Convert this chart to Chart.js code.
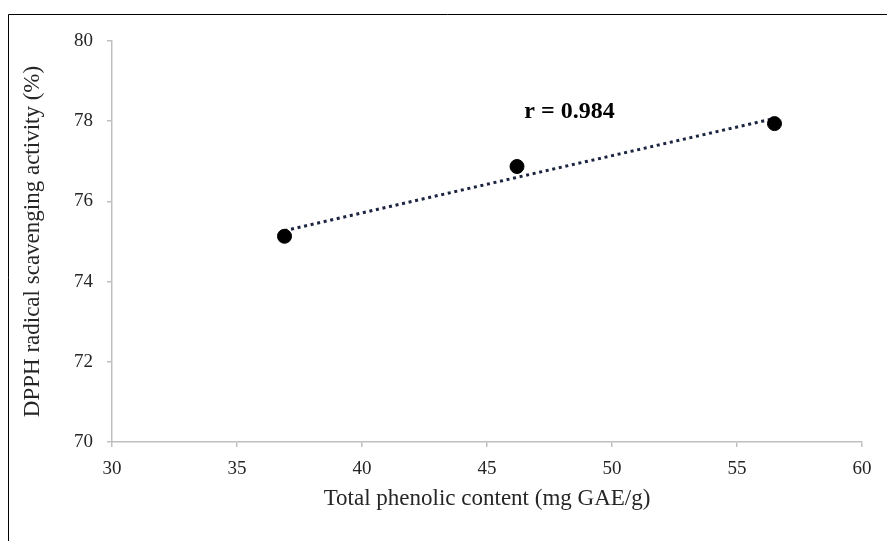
<!DOCTYPE html>
<html>
<head>
<meta charset="utf-8">
<script src="https://cdn.jsdelivr.net/npm/chart.js@4"></script>
<style>
  body { margin: 0; background: #fff; }
</style>
</head>
<body>
<canvas id="myChart" width="887" height="541"></canvas>
<script>
// Werte
const phenolic = [36.9, 46.2, 56.5];
const dpph = [75.13, 76.87, 77.94];
const trendX = [36.9, 56.5];
const trendY = [75.27, 78.07];
const xTicks = [30, 35, 40, 45, 50, 55, 60];
const yTicks = [70, 72, 74, 76, 78, 80];
const rLabel = "r = 0.984";

const axisGrey = '#bfbfbf';
const serif = "'Liberation Serif', 'DejaVu Serif', serif";

// Rahmen oben und links, plus r-Beschriftung
const extras = {
    id: 'extras',
    afterDraw(chart) {
        const c = chart.ctx;
        const xs = chart.scales.x, ys = chart.scales.y;
        c.save();
        c.fillStyle = '#000';
        c.font = "bold 24px " + serif;
        c.textAlign = 'center';
        c.textBaseline = 'middle';
        c.fillText(rLabel, xs.getPixelForValue(48.3), ys.getPixelForValue(78.23));
        c.strokeStyle = '#000';
        c.lineWidth = 1;
        c.beginPath();
        c.moveTo(8.5, 541);
        c.lineTo(8.5, 14.5);
        c.lineTo(887, 14.5);
        c.stroke();
        c.restore();
    }
};

const ctx = document.getElementById('myChart').getContext('2d');

let chart = new Chart(ctx, {
    type: 'scatter',
    data: {
        datasets: [
            {
                label: 'DPPH',
                data: phenolic.map((x, i) => ({ x: x, y: dpph[i] })),
                backgroundColor: '#000',
                borderColor: '#000',
                pointRadius: 7,
                order: 0
            },
            {
                label: 'Trend',
                type: 'line',
                data: trendX.map((x, i) => ({ x: x, y: trendY[i] })),
                borderColor: '#1b2540',
                borderWidth: 3,
                borderDash: [3, 3.7],
                pointRadius: 0,
                fill: false,
                order: 1
            }
        ]
    },
    options: {
        responsive: false,
        animation: false,
        layout: { padding: { left: 0, top: 41, right: 25, bottom: 0 } },
        plugins: { legend: { display: false }, tooltip: { enabled: false } },
        scales: {
            x: {
                type: 'linear',
                min: 30,
                max: 60,
                afterBuildTicks: (s) => { s.ticks = xTicks.map(v => ({ value: v })); },
                afterFit: (s) => { s.height = 99; },
                border: { color: axisGrey, width: 1.5 },
                grid: { drawOnChartArea: false, color: axisGrey, lineWidth: 1.5, tickLength: 5 },
                ticks: { color: '#262626', font: { family: serif, size: 19 }, padding: 11 },
                title: {
                    display: true,
                    text: 'Total phenolic content (mg GAE/g)',
                    color: '#262626',
                    font: { family: serif, size: 23 },
                    padding: { top: 0, bottom: 28 }
                }
            },
            y: {
                min: 70,
                max: 80,
                afterBuildTicks: (s) => { s.ticks = yTicks.map(v => ({ value: v })); },
                afterFit: (s) => { s.width = 112; },
                border: { color: axisGrey, width: 1.5 },
                grid: { drawOnChartArea: false, color: axisGrey, lineWidth: 1.5, tickLength: 5 },
                ticks: { color: '#262626', font: { family: serif, size: 19 }, padding: 14 },
                title: {
                    display: true,
                    text: 'DPPH radical scavenging activity (%)',
                    color: '#262626',
                    font: { family: serif, size: 23 },
                    padding: { top: 19, bottom: 0 }
                }
            }
        }
    },
    plugins: [extras]
});
</script>
</body>
</html>
